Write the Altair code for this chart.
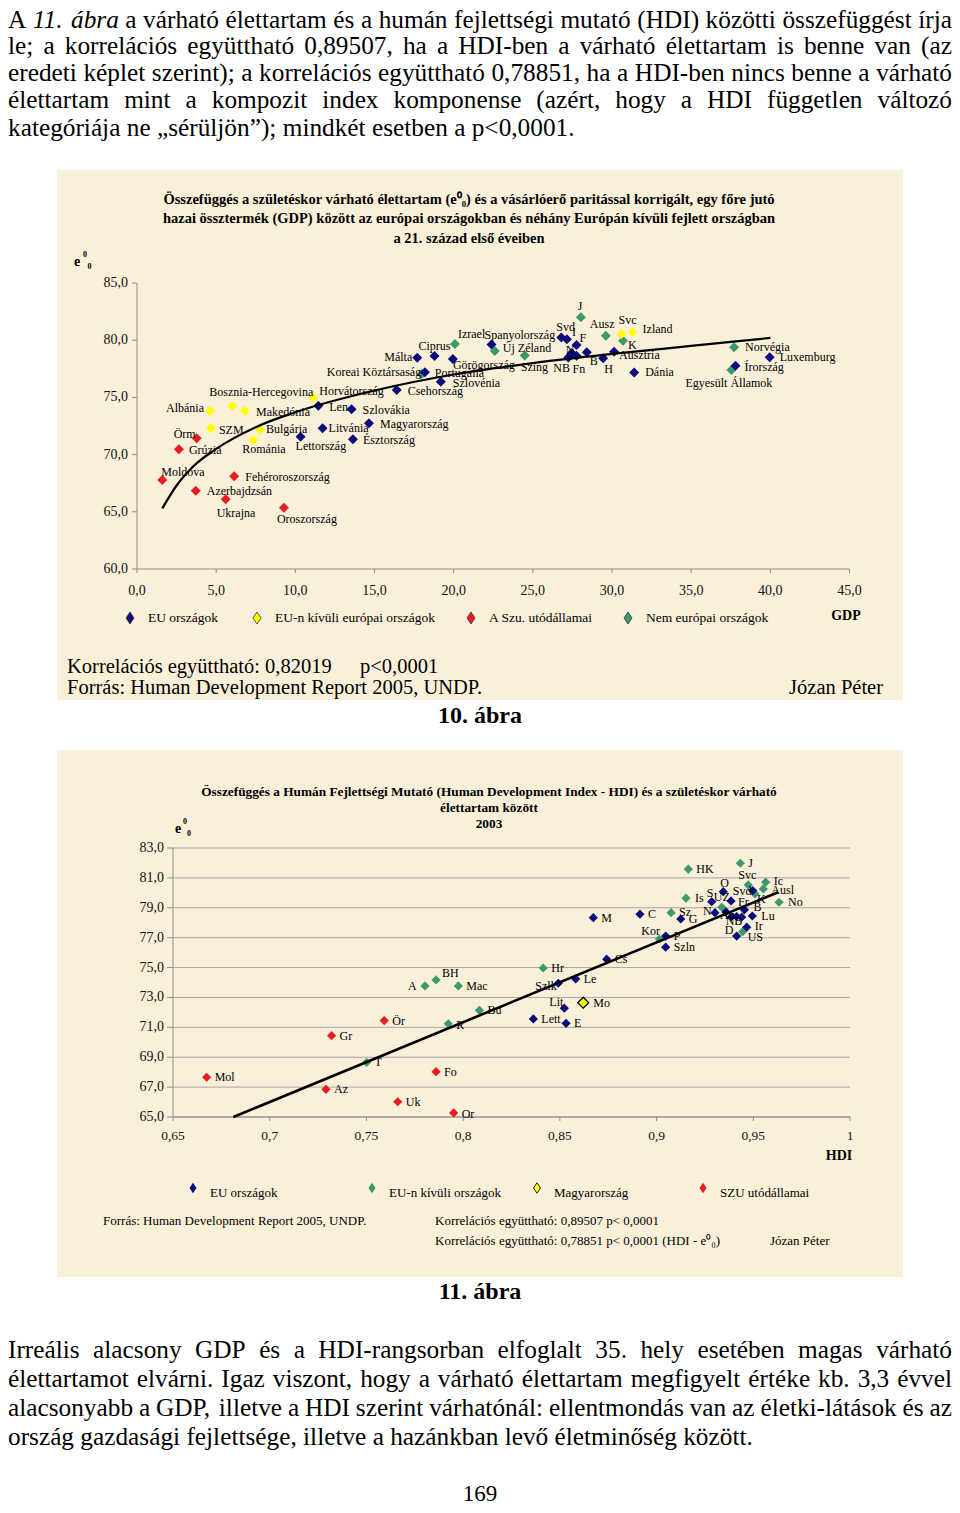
import altair as alt
import pandas as pd

SERIF = "Liberation Serif"
W, H = 944, 1497
PANEL = "#faf0da"
AXC = "#8c8c8c"

# ---------------- running text of the page ----------------
para_top = [
    "A _11._ _ábra_ a várható élettartam és a humán fejlettségi mutató (HDI) közötti összefüggést írja",
    "le; a korrelációs együttható 0,89507, ha a HDI-ben a várható élettartam is benne van (az",
    "eredeti képlet szerint); a korrelációs együttható 0,78851, ha a HDI-ben nincs benne a várható",
    "élettartam mint a kompozit index komponense (azért, hogy a HDI független változó",
    "kategóriája ne „sérüljön”); mindkét esetben a p<0,0001.",
]
para_bottom = [
    "Irreális alacsony GDP és a HDI-rangsorban elfoglalt 35. hely esetében magas várható",
    "élettartamot elvárni. Igaz viszont, hogy a várható élettartam megfigyelt értéke kb. 3,3 évvel",
    "alacsonyabb a GDP, illetve a HDI szerint várhatónál: ellentmondás van az életki-látások és az",
    "ország gazdasági fejlettsége, illetve a hazánkban levő életminőség között.",
]

# ---------------- Figure 10: GDP vs life expectancy ----------------
f1_categories = ["EU országok", "EU-n kívüli európai országok", "A Szu. utódállamai", "Nem európai országok"]
f1_colors = ["#0b0b7c", "#ffff00", "#ea1a1f", "#3a9a6d"]

f1_country = ["Koreai Köztársaság", "Izrael", "Új Zéland", "Szing", "J", "Ausz", "K", "Norvégia", "Egyesült Államok",
              "Albánia", "Bosznia-Hercegovina", "Makedónia", "SZM", "Bulgária", "Románia", "Horvátország", "Svc", "Izland",
              "Moldova", "Örm", "Grúzia", "Azerbajdzsán", "Ukrajna", "Fehéroroszország", "Oroszország",
              "Len", "Szlovákia", "Litvánia", "Magyarország", "Lettország", "Észtország", "Csehország", "Portugália",
              "Szlovénia", "Málta", "Ciprus", "Görögország", "Spanyolország", "Svd", "I", "F", "N", "NB", "Fn", "B",
              "H", "Ausztria", "Dánia", "Luxemburg", "Írország"]
f1_gdp = [17.99, 20.08, 22.60, 24.49, 28.03, 29.61, 30.70, 37.71, 37.54,
          4.61, 6.02, 6.82, 4.67, 7.77, 7.34, 11.13, 30.60, 31.30,
          1.60, 3.77, 2.65, 3.71, 5.60, 6.14, 9.28,
          11.45, 13.55, 11.72, 14.65, 10.33, 13.64, 16.40, 18.18,
          19.19, 17.70, 18.79, 19.95, 22.39, 26.80, 27.15, 27.76, 27.46, 27.24, 27.76, 28.41,
          29.44, 30.13, 31.40, 39.96, 37.80]
f1_e0 = [77.05, 79.67, 79.06, 78.66, 82.00, 80.39, 79.96, 79.38, 77.40,
         73.84, 74.25, 73.84, 72.30, 72.18, 71.28, 74.97, 80.54, 80.69,
         67.78, 71.42, 70.46, 66.84, 66.09, 68.10, 65.36,
         74.27, 73.96, 72.30, 72.74, 71.56, 71.34, 75.65, 77.19,
         76.37, 78.47, 78.62, 78.36, 79.62, 80.24, 80.08, 79.58, 78.88, 78.49, 78.65, 78.94,
         78.42, 79.00, 77.18, 78.51, 77.77]
f1_cat = [3] * 9 + [1] * 9 + [2] * 7 + [0] * 25
# where each data label sits, relative to its marker (pixels)
f1_label_dx = [-95, 3, 8, -4, -3, -16, 5, 11, -46,
               -44, -23, 11, 8, 6, -11, 6, -3, 10,
               -1, -23, 10, 11, -9, 11, -7,
               11, 11, 6, 11, -5, 10, 11, 10,
               12, -33, -16, 0, -7, -5, 5, 3, -6, -15, -4, 3,
               1, 5, 11, 10, 9]
f1_label_dy = [-2, -10, -3, 11, -11, -12, 4, 0, 13,
               -3, -14, 1, 2, -1, 9, -7, -14, -3,
               -8, -4, 1, 0, 14, 1, 11,
               1, 1, 0, 1, 9, 1, 1, 1,
               1, -1, -10, 6, -10, -10, -7, -7, -3, 11, 13, 9,
               11, 3, 0, 0, 1]
f1_trend_gdp = [1.6, 2.5, 3.5, 5.0, 7.5, 10.0, 15.0, 20.0, 25.0, 30.0, 35.0, 40.0]
f1_trend_e0 = [65.3, 67.3, 68.9, 70.5, 72.4, 73.7, 75.6, 77.0, 78.0, 78.8, 79.5, 80.2]
f1_xticks = [0, 5, 10, 15, 20, 25, 30, 35, 40, 45]
f1_xtick_labels = ["0,0", "5,0", "10,0", "15,0", "20,0", "25,0", "30,0", "35,0", "40,0", "45,0"]
f1_yticks = [60, 65, 70, 75, 80, 85]
f1_ytick_labels = ["60,0", "65,0", "70,0", "75,0", "80,0", "85,0"]

# ---------------- Figure 11: HDI vs life expectancy ----------------
f2_categories = ["EU országok", "EU-n kívüli országok", "Magyarország", "SZU utódállamai"]
f2_colors = ["#0b0b7c", "#3a9a6d", "#ffff00", "#ea1a1f"]

f2_label = ["T", "A", "BH", "Mac", "R", "Bu", "Hr", "HK", "J", "Svc", "Ic", "Ausl", "No", "Is", "Sz", "Kor", "UZ", "K", "US",
            "Mol", "Gr", "Ör", "Az", "Uk", "Fo", "Or",
            "Szlk", "Le", "Lit", "Lett", "E", "Cs", "M", "C", "G", "P", "Szln", "O", "Svd", "S", "Fr", "N", "Au",
            "NB", "", "", "B", "Lu", "Ir", "D",
            "Mo"]
f2_hdi = [0.7501, 0.7803, 0.7860, 0.7975, 0.7923, 0.8084, 0.8414, 0.9164, 0.9433, 0.9474, 0.9564, 0.9552, 0.9633,
          0.9152, 0.9075, 0.9014, 0.9337, 0.9509, 0.9445,
          0.6674, 0.7320, 0.7592, 0.7291, 0.7662, 0.7860, 0.7951,
          0.8492, 0.8582, 0.8523, 0.8363, 0.8532, 0.8742, 0.8673, 0.8914, 0.9125, 0.9047, 0.9047, 0.9345, 0.9497,
          0.9285, 0.9385, 0.9302, 0.9359, 0.9414, 0.9440, 0.9388, 0.9454, 0.9495, 0.9466, 0.9414,
          0.8621]
f2_e0 = [68.66, 73.77, 74.17, 73.77, 71.24, 72.14, 74.97, 81.58, 81.98, 80.53, 80.71, 80.26, 79.37,
         79.64, 78.67, 76.91, 79.04, 79.93, 77.40,
         67.66, 70.44, 71.45, 66.85, 66.02, 68.03, 65.27,
         73.95, 74.24, 72.28, 71.56, 71.27, 75.56, 78.34, 78.57, 78.25, 77.11, 76.36, 80.08, 80.15,
         79.41, 79.46, 78.67, 78.72, 78.41, 78.37, 78.41, 78.86, 78.45, 77.70, 77.11,
         72.65]
f2_cat = [1] * 19 + [3] * 7 + [0] * 24 + [2]
f2_label_dx = [8, -17, 6, 8, 8, 8, 8, 8, 8, -10, 8, 8, 9, 9, 8, -18, -8, 2, 5,
               8, 8, 8, 8, 8, 8, 8,
               -23, 8, -15, 8, 8, 8, 8, 8, 8, 8, 8, -3, -20, -5, 7, -12, -6, -11, 0, 0, 9, 9, 8, -12,
               10]
f2_label_dy = [0, 0, -7, 0, 1, 0, 0, 0, 0, -10, -1, 1, 0, 0, -1, -8, -10, 5, 5,
               0, 0, 0, 0, 0, 0, 1,
               3, 0, -6, 0, 0, 0, 0, 0, 0, 0, 0, -9, 0, -9, 1, -2, 3, 4, 0, 0, -3, 0, -1, -6,
               0]
f2_trend_hdi = [0.6812, 0.9629]
f2_trend_e0 = [65.0, 80.04]
f2_xticks = [0.65, 0.7, 0.75, 0.8, 0.85, 0.9, 0.95, 1.0]
f2_xtick_labels = ["0,65", "0,7", "0,75", "0,8", "0,85", "0,9", "0,95", "1"]
f2_yticks = [65, 67, 69, 71, 73, 75, 77, 79, 81, 83]
f2_ytick_labels = ["65,0", "67,0", "69,0", "71,0", "73,0", "75,0", "77,0", "79,0", "81,0", "83,0"]

# ---------------- layout (pixels inside the chart) ----------------
F1_XR, F1_YR = [129, 841.5], [561, 275]
F2_XR, F2_YR = [165, 842], [1109, 840]

TIMES = {' ': 250, '(': 333, ')': 333, ',': 250, '-': 333, '.': 250, ':': 278, ';': 278, '<': 564,
         '„': 444, '”': 444,
         'A': 722, 'B': 667, 'C': 667, 'D': 722, 'E': 611, 'F': 556, 'G': 722, 'H': 722, 'I': 333, 'J': 389,
         'K': 722, 'L': 611, 'M': 889, 'N': 722, 'O': 722, 'P': 556, 'R': 667, 'S': 556, 'T': 611, 'U': 722,
         'V': 722, 'Z': 611,
         'a': 444, 'b': 500, 'c': 444, 'd': 500, 'e': 444, 'f': 333, 'g': 500, 'h': 500, 'i': 278, 'j': 278,
         'k': 500, 'l': 278, 'm': 778, 'n': 500, 'o': 500, 'p': 500, 'q': 500, 'r': 333, 's': 389, 't': 278,
         'u': 500, 'v': 500, 'w': 722, 'x': 500, 'y': 500, 'z': 444,
         'á': 444, 'é': 444, 'í': 278, 'ó': 500, 'ö': 500, 'ő': 500, 'ú': 500, 'ü': 500, 'ű': 500,
         'Á': 722, 'É': 611, 'Í': 333, 'Ó': 722, 'Ö': 722, 'Ú': 722, 'Ü': 722}
for d in "0123456789":
    TIMES[d] = 500
TIMES_IT = dict(TIMES)
TIMES_IT.update({'a': 500, 'r': 389, 'b': 500, 'á': 500})


def justify(lines, ys, size, x0=0, x1=W):
    reg, ita = [], []
    for i, (line, yc) in enumerate(zip(lines, ys)):
        toks = [(w.strip("_"), w.startswith("_")) for w in line.split(" ")]
        wids = [sum((TIMES_IT if it else TIMES).get(ch, 500) for ch in w) / 1000 * size for w, it in toks]
        if i == len(lines) - 1:
            gap = TIMES[' '] / 1000 * size
        else:
            gap = (x1 - x0 - sum(wids)) / (len(toks) - 1)
        x = x0
        for (w, it), wd in zip(toks, wids):
            (ita if it else reg).append({"t": w, "x": x, "y": yc})
            x += wd + gap
    return reg, ita


def txt(rows, size, weight="normal", align="left", style="normal"):
    df = pd.DataFrame(rows, columns=["t", "x", "y"]) if rows and isinstance(rows[0], tuple) else pd.DataFrame(rows)
    return alt.Chart(df).mark_text(font=SERIF, fontSize=size, fontWeight=weight, fontStyle=style,
                                   align=align, baseline="middle", color="black").encode(
        x=alt.X("x:Q", scale=None, axis=None), y=alt.Y("y:Q", scale=None, axis=None), text="t:N")


def axes(xs, ys, xt, xl, yt, yl, ytick, xlab_dy, ylab_dx, fsx, fsy):
    """Axis lines, ticks and tick labels drawn through the figure's own scales."""
    dom = pd.DataFrame({"x": [xt[0], xt[0]], "x2": [xt[0], xt[-1]], "y": [yt[0], yt[0]], "y2": [yt[-1], yt[0]]})
    domain = alt.Chart(dom).mark_rule(color=AXC, strokeWidth=1).encode(
        x=alt.X("x:Q", scale=xs, axis=None), x2="x2:Q", y=alt.Y("y:Q", scale=ys, axis=None), y2="y2:Q")
    ydf = pd.DataFrame({"v": yt, "t": yl, "x": xt[0]})
    xdf = pd.DataFrame({"v": xt, "t": xl, "y": yt[0]})
    yticks = alt.Chart(ydf).mark_tick(orient="horizontal", size=ytick, thickness=1, color=AXC, opacity=1,
                                      xOffset=-ytick / 2).encode(
        x=alt.X("x:Q", scale=xs, axis=None), y=alt.Y("v:Q", scale=ys, axis=None))
    xticks = alt.Chart(xdf).mark_tick(orient="vertical", size=4, thickness=1, color=AXC, opacity=1,
                                      yOffset=2).encode(
        x=alt.X("v:Q", scale=xs, axis=None), y=alt.Y("y:Q", scale=ys, axis=None))
    ylabs = alt.Chart(ydf).mark_text(font=SERIF, fontSize=fsy, align="right", baseline="middle", dx=ylab_dx,
                                     color="#111").encode(
        x=alt.X("x:Q", scale=xs, axis=None), y=alt.Y("v:Q", scale=ys, axis=None), text="t:N")
    xlabs = alt.Chart(xdf).mark_text(font=SERIF, fontSize=fsx, align="center", baseline="middle", dy=xlab_dy,
                                     color="#111").encode(
        x=alt.X("v:Q", scale=xs, axis=None), y=alt.Y("y:Q", scale=ys, axis=None), text="t:N")
    return [domain, yticks, xticks, ylabs, xlabs]


PARA = 25.3
top_reg, top_it = justify(para_top, [11.5, 37.5, 64.5, 91.5, 120], PARA)
bot_reg, bot_it = justify(para_bottom, [1342, 1371, 1400, 1429], PARA)

# ---------------- figure 10 layers ----------------
px1 = (F1_XR[1] - F1_XR[0]) / 45.0
py1 = (F1_YR[0] - F1_YR[1]) / 25.0
df1 = pd.DataFrame({"country": f1_country, "gdp": f1_gdp, "e0": f1_e0,
                    "group": [f1_categories[i] for i in f1_cat]})
df1["lx"] = df1["gdp"] + pd.Series(f1_label_dx) / px1
df1["ly"] = df1["e0"] - pd.Series(f1_label_dy) / py1

f1_xs = alt.Scale(domain=[0, 45], range=F1_XR, nice=False, zero=False)
f1_ys = alt.Scale(domain=[60, 85], range=F1_YR, nice=False, zero=False)

pts1 = alt.Chart(df1).mark_point(shape="diamond", filled=True, size=100, opacity=1).encode(
    x=alt.X("gdp:Q", scale=f1_xs, axis=None),
    y=alt.Y("e0:Q", scale=f1_ys, axis=None),
    color=alt.Color("group:N", scale=alt.Scale(domain=f1_categories, range=f1_colors), legend=None))
trend1 = alt.Chart(pd.DataFrame({"gdp": f1_trend_gdp, "e0": f1_trend_e0})).mark_line(
    color="black", strokeWidth=2.2, interpolate="monotone").encode(
    x=alt.X("gdp:Q", scale=f1_xs, axis=None), y=alt.Y("e0:Q", scale=f1_ys, axis=None))
lab1 = alt.Chart(df1).mark_text(font=SERIF, fontSize=12, align="left", baseline="middle", color="black").encode(
    x=alt.X("lx:Q", scale=f1_xs, axis=None), y=alt.Y("ly:Q", scale=f1_ys, axis=None), text="country:N")
ax1 = axes(f1_xs, f1_ys, f1_xticks, f1_xtick_labels, f1_yticks, f1_ytick_labels, 5, 22, -9, 14, 14)
fig1 = alt.layer(*ax1, pts1, trend1, lab1)

# ---------------- figure 11 layers ----------------
px2 = (F2_XR[1] - F2_XR[0]) / 0.35
py2 = (F2_YR[0] - F2_YR[1]) / 18.0
df2 = pd.DataFrame({"label": f2_label, "hdi": f2_hdi, "e0": f2_e0,
                    "group": [f2_categories[i] for i in f2_cat]})
df2["lx"] = df2["hdi"] + pd.Series(f2_label_dx) / px2
df2["ly"] = df2["e0"] - pd.Series(f2_label_dy) / py2
df2_main = df2[df2["group"] != "Magyarország"]
df2_hu = df2[df2["group"] == "Magyarország"]

f2_xs = alt.Scale(domain=[0.65, 1.0], range=F2_XR, nice=False, zero=False)
f2_ys = alt.Scale(domain=[65, 83], range=F2_YR, nice=False, zero=False)
f2_color = alt.Color("group:N", scale=alt.Scale(domain=f2_categories, range=f2_colors), legend=None)

grid2 = alt.Chart(pd.DataFrame({"v": f2_yticks, "lo": f2_xticks[0], "hi": f2_xticks[-1]})).mark_rule(
    color="#a6a6a6", strokeWidth=1).encode(
    x=alt.X("lo:Q", scale=f2_xs, axis=None), x2="hi:Q", y=alt.Y("v:Q", scale=f2_ys, axis=None))
pts2 = alt.Chart(df2_main).mark_point(shape="diamond", filled=True, size=85, opacity=1).encode(
    x=alt.X("hdi:Q", scale=f2_xs, axis=None),
    y=alt.Y("e0:Q", scale=f2_ys, axis=None), color=f2_color)
hu2 = alt.Chart(df2_hu).mark_point(shape="diamond", filled=True, size=120, opacity=1, stroke="black",
                                   strokeWidth=1.3).encode(
    x=alt.X("hdi:Q", scale=f2_xs, axis=None), y=alt.Y("e0:Q", scale=f2_ys, axis=None), color=f2_color)
trend2 = alt.Chart(pd.DataFrame({"hdi": f2_trend_hdi, "e0": f2_trend_e0})).mark_line(
    color="black", strokeWidth=2.6).encode(
    x=alt.X("hdi:Q", scale=f2_xs, axis=None), y=alt.Y("e0:Q", scale=f2_ys, axis=None))
lab2 = alt.Chart(df2).mark_text(font=SERIF, fontSize=12, align="left", baseline="middle", color="black").encode(
    x=alt.X("lx:Q", scale=f2_xs, axis=None), y=alt.Y("ly:Q", scale=f2_ys, axis=None), text="label:N")
ax2 = axes(f2_xs, f2_ys, f2_xticks, f2_xtick_labels, f2_yticks, f2_ytick_labels, 6, 19, -9, 13.5, 14)
fig2 = alt.layer(grid2, *ax2, pts2, hu2, trend2, lab2)

# ---------------- page background, panels, legends, texts ----------------
page = alt.Chart(pd.DataFrame({"x0": [0], "x1": [W], "y0": [0], "y1": [H]})).mark_rect(
    color="white", strokeWidth=0).encode(x=alt.X("x0:Q", scale=None, axis=None), x2="x1:Q",
                                         y=alt.Y("y0:Q", scale=None, axis=None), y2="y1:Q")
panels = alt.Chart(pd.DataFrame({"x0": [49, 49], "x1": [895, 895], "y0": [162, 742], "y1": [692, 1269]})).mark_rect(
    color=PANEL).encode(x=alt.X("x0:Q", scale=None, axis=None), x2="x1:Q",
                        y=alt.Y("y0:Q", scale=None, axis=None), y2="y1:Q")

TALL = "M0,-1.5L1,0L0,1.5L-1,0Z"
leg1_x, leg1_y = [122, 249, 463, 620], 610
leg2_x, leg2_y = [185, 364, 529, 695], 1180
leg1 = alt.Chart(pd.DataFrame({"group": f1_categories, "x": leg1_x, "y": leg1_y})).mark_point(
    shape=TALL, filled=True, size=64, opacity=1, stroke="#333", strokeWidth=0.8).encode(
    x=alt.X("x:Q", scale=None, axis=None), y=alt.Y("y:Q", scale=None, axis=None),
    color=alt.Color("group:N", scale=alt.Scale(domain=f1_categories, range=f1_colors), legend=None))
leg2 = alt.Chart(pd.DataFrame({"group": f2_categories, "x": leg2_x, "y": leg2_y,
                               "sw": [0, 0, 1, 0]})).mark_point(
    shape=TALL, filled=True, size=49, opacity=1, stroke="#222").encode(
    x=alt.X("x:Q", scale=None, axis=None), y=alt.Y("y:Q", scale=None, axis=None),
    strokeWidth=alt.StrokeWidth("sw:Q", scale=None),
    color=alt.Color("group:N", scale=alt.Scale(domain=f2_categories, range=f2_colors), legend=None))

leg1_txt = txt([(c, x + 18, leg1_y) for c, x in zip(f1_categories, leg1_x)], 13.5)
leg2_txt = txt([(c, x + 17, leg2_y + 5) for c, x in zip(f2_categories, leg2_x)], 13)

title1 = txt([
    ("Összefüggés a születéskor várható élettartam (e⁰₀) és a vásárlóerő paritással korrigált, egy főre jutó", 461, 192),
    ("hazai össztermék (GDP) között az európai országokban és néhány Európán kívüli fejlett országban", 461, 211),
    ("a 21. század első éveiben", 461, 231),
], 14.5, weight="bold", align="center")
title2 = txt([
    ("Összefüggés a Humán Fejlettségi Mutató (Human Development Index - HDI) és a születéskor várható", 481, 784),
    ("élettartam között", 481, 800),
    ("2003", 481, 816),
], 13.3, weight="bold", align="center")
bold14 = txt([("e", 69, 254), ("GDP", 838, 608), ("e", 170, 821), ("HDI", 831, 1148)], 14, weight="bold",
             align="center")
tiny = txt([("0", 77, 247), ("0", 81.5, 259), ("0", 177, 814), ("0", 181, 826)], 8, weight="bold", align="center")
big_notes = txt([("Korrelációs együttható: 0,82019", 59, 659), ("p<0,0001", 352, 659),
                 ("Forrás: Human Development Report 2005, UNDP.", 59, 680)], 20.5)
big_right = txt([("Józan Péter", 875, 680)], 20.5, align="right")
small_notes = txt([("Forrás: Human Development Report 2005, UNDP.", 95, 1213),
                   ("Korrelációs együttható: 0,89507  p< 0,0001", 427, 1213),
                   ("Korrelációs együttható: 0,78851 p< 0,0001 (HDI - e⁰₀)", 427, 1233),
                   ("Józan Péter", 762, 1233)], 13)
captions = txt([("10. ábra", 472, 708), ("11. ábra", 472, 1284)], 24, weight="bold", align="center")
pagenum = txt([("169", 472, 1486)], 23, align="center")
para_layers = [txt(top_reg, PARA), txt(top_it, PARA, style="italic"), txt(bot_reg, PARA)]
if bot_it:
    para_layers.append(txt(bot_it, PARA, style="italic"))

chart = alt.layer(
    page, panels, fig1, fig2, leg1, leg2, leg1_txt, leg2_txt, title1, title2, bold14, tiny,
    big_notes, big_right, small_notes, captions, pagenum, *para_layers
).resolve_scale(
    x="independent", y="independent", color="independent"
).properties(
    width=W, height=H, padding=0, autosize=alt.AutoSizeParams(type="none")
).configure_view(
    stroke="transparent", strokeWidth=0
).configure_axis(
    disable=True
).configure(background="white")

chart.save("out.html", embed_options={"renderer": "svg", "actions": False})
